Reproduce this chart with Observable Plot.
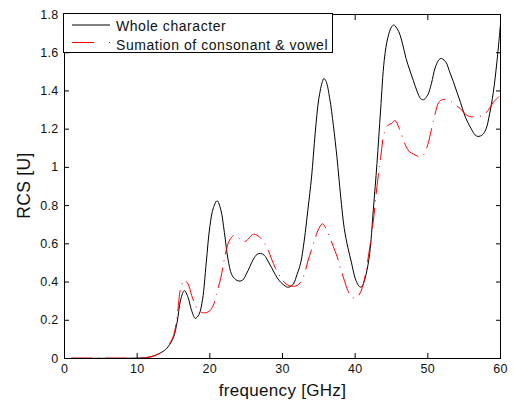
<!DOCTYPE html>
<html>
<head>
<meta charset="utf-8">
<script src="https://cdn.jsdelivr.net/npm/d3@7"></script>
<script src="https://cdn.jsdelivr.net/npm/@observablehq/plot@0.6"></script>
<style>
  html, body { margin: 0; padding: 0; background: #fff; }
  #wrap { position: relative; width: 513px; height: 403px; }
  #legend { position: absolute; left: 0; top: 0; pointer-events: none; }
</style>
</head>
<body>
<div id="wrap">
  <div id="chart"></div>
  <svg id="legend" width="513" height="60"></svg>
</div>
<script>
// Series: "Whole character"
const wholeFreq = [1, 5, 10, 11, 12, 13, 14, 14.5, 15, 15.5, 16, 16.5, 17, 17.5, 18, 18.5, 19, 19.5, 20, 20.5, 21, 21.5, 22, 22.5, 23, 23.5, 24, 24.5, 25, 25.5, 26, 26.5, 27, 27.5, 28, 28.5, 29, 29.5, 30, 30.7, 31, 31.5, 32, 32.5, 33, 33.5, 34, 34.5, 35, 35.5, 35.7, 36, 36.5, 37, 37.5, 38, 38.5, 39, 39.5, 40, 40.5, 40.8, 41, 41.5, 42, 42.5, 43, 43.5, 44, 44.5, 45, 45.3, 45.5, 46, 46.5, 47, 47.5, 48, 48.5, 49, 49.3, 49.5, 50, 50.5, 51, 51.5, 51.8, 52, 52.5, 53, 53.5, 54, 54.5, 55, 55.5, 56, 56.5, 56.9, 57.5, 58, 58.5, 59, 59.5, 60];
const wholeRCS = [0.001, 0.001, 0.002, 0.004, 0.01, 0.025, 0.05, 0.075, 0.11, 0.19, 0.31, 0.355, 0.32, 0.25, 0.21, 0.23, 0.31, 0.5, 0.69, 0.79, 0.825, 0.78, 0.66, 0.52, 0.44, 0.415, 0.405, 0.41, 0.44, 0.48, 0.52, 0.545, 0.55, 0.54, 0.51, 0.475, 0.44, 0.41, 0.39, 0.373, 0.375, 0.39, 0.44, 0.5, 0.62, 0.78, 0.95, 1.18, 1.36, 1.45, 1.465, 1.45, 1.36, 1.22, 1.05, 0.85, 0.68, 0.58, 0.5, 0.42, 0.38, 0.373, 0.38, 0.44, 0.55, 0.78, 1.02, 1.3, 1.56, 1.68, 1.735, 1.745, 1.74, 1.71, 1.65, 1.57, 1.51, 1.455, 1.4, 1.36, 1.354, 1.356, 1.38, 1.44, 1.52, 1.562, 1.57, 1.568, 1.55, 1.5, 1.45, 1.394, 1.34, 1.28, 1.235, 1.2, 1.17, 1.162, 1.17, 1.2, 1.28, 1.39, 1.55, 1.75];

// Series: "Sumation of consonant & vowel"
const sumFreq = [1, 5, 10, 11, 12, 13, 14, 14.5, 15, 15.5, 16, 16.5, 17, 17.5, 18, 18.5, 19, 19.5, 20, 20.5, 21, 21.5, 22, 22.5, 23, 23.5, 24, 24.5, 25, 25.5, 26, 26.5, 27, 27.5, 28, 28.5, 29, 29.5, 30, 30.5, 31, 31.5, 32, 32.5, 33, 33.5, 34, 34.5, 35, 35.5, 36, 36.5, 37, 37.5, 38, 38.5, 39, 39.5, 40, 40.5, 41, 41.5, 42, 42.5, 43, 43.5, 44, 44.5, 45, 45.5, 46, 46.5, 47, 47.5, 48, 48.5, 49, 49.5, 50, 50.5, 51, 51.5, 52, 52.5, 53, 53.5, 54, 54.5, 55, 55.5, 56, 56.5, 57, 57.5, 58, 58.5, 59, 59.5, 60];
const sumRCS = [0.002, 0.002, 0.002, 0.004, 0.01, 0.025, 0.05, 0.08, 0.12, 0.22, 0.37, 0.41, 0.39, 0.33, 0.28, 0.25, 0.24, 0.24, 0.25, 0.28, 0.35, 0.42, 0.52, 0.6, 0.635, 0.645, 0.63, 0.613, 0.615, 0.635, 0.65, 0.645, 0.63, 0.605, 0.57, 0.52, 0.475, 0.44, 0.41, 0.39, 0.38, 0.378, 0.382, 0.4, 0.44, 0.51, 0.57, 0.63, 0.68, 0.705, 0.68, 0.635, 0.585, 0.535, 0.47, 0.41, 0.355, 0.322, 0.316, 0.33, 0.373, 0.46, 0.58, 0.72, 0.9, 1.05, 1.18, 1.22, 1.23, 1.245, 1.21, 1.16, 1.11, 1.08, 1.07, 1.06, 1.054, 1.07, 1.12, 1.2, 1.28, 1.34, 1.355, 1.355, 1.35, 1.335, 1.32, 1.307, 1.285, 1.27, 1.265, 1.265, 1.268, 1.27, 1.285, 1.31, 1.34, 1.36, 1.38];

const seriesNames = ["Whole character", "Sumation of consonant & vowel"];
const xTicks = [0, 10, 20, 30, 40, 50, 60];
const yTicks = [0, 0.2, 0.4, 0.6, 0.8, 1, 1.2, 1.4, 1.6, 1.8];
const xLabel = "frequency [GHz]";
const yLabel = "RCS [U]";

const whole = wholeFreq.map((f, i) => ({f, v: wholeRCS[i]}));
const sum = sumFreq.map((f, i) => ({f, v: sumRCS[i]}));
const fmt = d => String(+d.toFixed(1));
const RED_DASH = "20,7,0.3,7";
const FONT = "'Liberation Sans', Arial, sans-serif";

const chart = Plot.plot({
  width: 513,
  height: 403,
  marginLeft: 64,
  marginRight: 13,
  marginTop: 14,
  marginBottom: 45,
  style: {fontFamily: FONT, fontSize: "12.5px", color: "#111", background: "#fff", letterSpacing: "0.3px"},
  x: {domain: [0, 60]},
  y: {domain: [0, 1.8]},
  marks: [
    Plot.line(whole, {x: "f", y: "v", stroke: "#000", strokeWidth: 1, curve: "catmull-rom"}),
    Plot.line(sum, {x: "f", y: "v", stroke: "#ff0000", strokeWidth: 1, strokeDasharray: RED_DASH, curve: "catmull-rom"}),
    Plot.frame({stroke: "#000", strokeWidth: 1}),
    Plot.axisX(xTicks, {anchor: "bottom", tickSize: -5, tickPadding: 10.5, tickFormat: fmt, label: null, stroke: "#000"}),
    Plot.axisX(xTicks, {anchor: "top", tickSize: -5, tickFormat: () => "", label: null, stroke: "#000"}),
    Plot.axisY(yTicks, {anchor: "left", tickSize: -5, tickPadding: 11, tickFormat: fmt, label: null, stroke: "#000"}),
    Plot.axisY(yTicks, {anchor: "right", tickSize: -5, tickFormat: () => "", label: null, stroke: "#000"}),
    Plot.text([xLabel], {frameAnchor: "bottom", lineAnchor: "middle", textAnchor: "middle", dy: 32.5, fontSize: 17, fill: "#111", style: "letter-spacing:0.9px"}),
    Plot.text([yLabel], {frameAnchor: "left", lineAnchor: "middle", textAnchor: "middle", dx: -40.5, dy: -1, rotate: -90, fontSize: 17.5, fill: "#111"})
  ]
});
document.getElementById("chart").appendChild(chart);

// Legend (drawn on top of the plot frame, as in the reference)
const ns = "http://www.w3.org/2000/svg";
const lg = document.getElementById("legend");
function el(tag, attrs, text) {
  const e = document.createElementNS(ns, tag);
  for (const k in attrs) e.setAttribute(k, attrs[k]);
  if (text) e.textContent = text;
  lg.appendChild(e);
  return e;
}
el("rect", {x: 63.5, y: 13.5, width: 269, height: 39, fill: "#fff", stroke: "#000", "stroke-width": 1});
const rows = [
  {stroke: "#000", dash: null, lineY: 25, textY: 31},
  {stroke: "#ff0000", dash: "22,15,1,0", lineY: 42.5, textY: 50}
];
seriesNames.forEach((name, i) => {
  const r = rows[i];
  const attrs = {x1: 72, x2: 110, y1: r.lineY, y2: r.lineY, stroke: r.stroke, "stroke-width": 1};
  if (r.dash) attrs["stroke-dasharray"] = r.dash;
  el("line", attrs);
  el("text", {x: 116, y: r.textY, "font-family": FONT, "font-size": 14, "letter-spacing": "0.55px", fill: "#111"}, name);
});
</script>
</body>
</html>
